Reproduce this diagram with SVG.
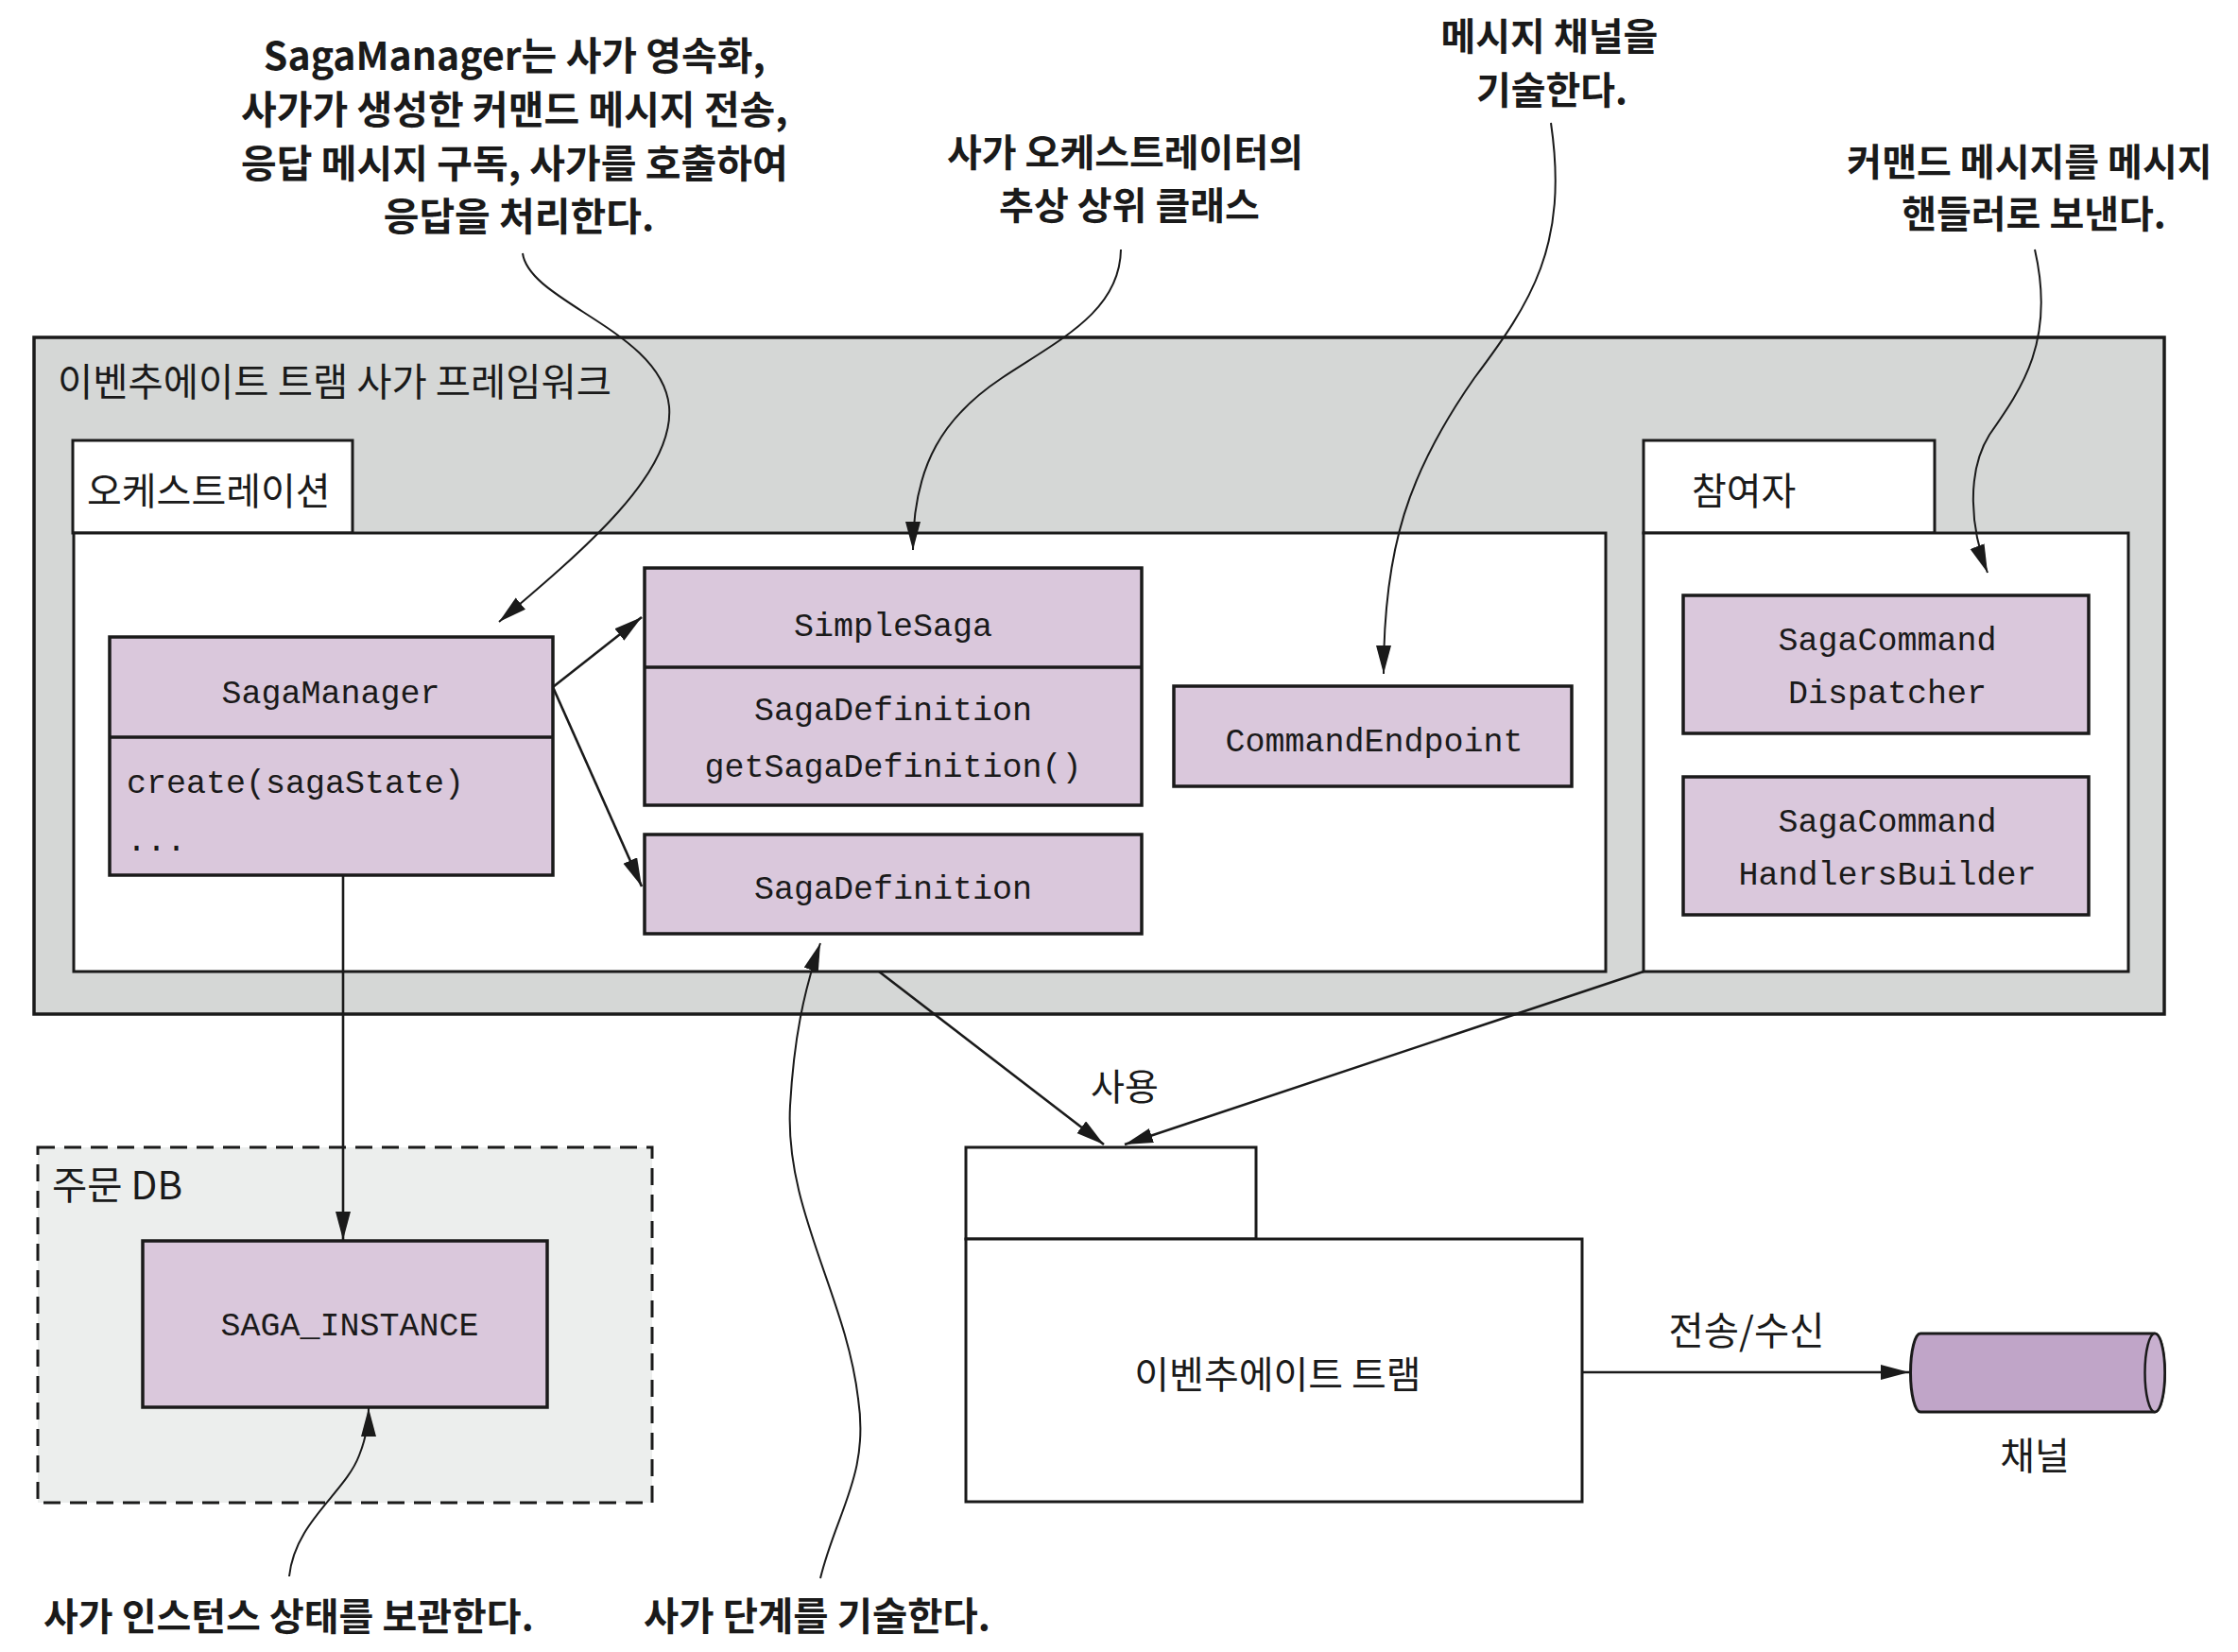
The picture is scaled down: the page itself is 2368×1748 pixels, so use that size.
<svg xmlns="http://www.w3.org/2000/svg" width="2368" height="1748" viewBox="0 0 2368 1748">
<style>
.ann{font-family:"Noto Sans CJK KR","Noto Sans",sans-serif;font-weight:700;fill:#1a1a1a}
.lbl{font-family:"Noto Sans CJK KR","Noto Sans",sans-serif;fill:#1a1a1a}
.mono{font-family:"Liberation Mono","DejaVu Sans Mono",monospace;font-size:35px;fill:#1a1a1a}
.node{fill:#dac8dc;stroke:#1a1a1a;stroke-width:3.5}
.pane{fill:#ffffff;stroke:#1a1a1a;stroke-width:3}
.edge{fill:none;stroke:#1a1a1a;stroke-width:2.6}
.note{fill:none;stroke:#1a1a1a;stroke-width:2}
</style>
<defs>
<marker id="ah" markerUnits="userSpaceOnUse" markerWidth="32" markerHeight="18" refX="30" refY="8" orient="auto">
<path d="M0,0 L30,8 L0,16 Z" fill="#1a1a1a"/>
</marker>
</defs>
<rect width="2368" height="1748" fill="#ffffff"/>

<g id="framework">
<rect x="36" y="357" width="2254" height="716" fill="#d5d7d6" stroke="#1a1a1a" stroke-width="3.5"/>
<text class="lbl" x="61" y="419" font-size="40.5">이벤추에이트 트램 사가 프레임워크</text>
</g>

<g id="orchestration">
<rect class="pane" x="77" y="466" width="296" height="98"/>
<rect class="pane" x="78" y="564" width="1621" height="464"/>
<text class="lbl" x="92" y="534" font-size="40">오케스트레이션</text>
</g>

<g id="participants">
<rect class="pane" x="1739" y="466" width="308" height="98"/>
<rect class="pane" x="1739" y="564" width="513" height="464"/>
<text class="lbl" x="1790" y="534" font-size="40">참여자</text>
</g>

<g id="sagaManager">
<rect class="node" x="116" y="674" width="469" height="252"/>
<line x1="116" y1="780" x2="585" y2="780" stroke="#1a1a1a" stroke-width="3.5"/>
<text class="mono" x="350" y="744" text-anchor="middle">SagaManager</text>
<text class="mono" x="134" y="839">create(sagaState)</text>
<text class="mono" x="134" y="900">...</text>
</g>

<g id="simpleSaga">
<rect class="node" x="682" y="601" width="526" height="251"/>
<line x1="682" y1="706" x2="1208" y2="706" stroke="#1a1a1a" stroke-width="3.5"/>
<text class="mono" x="945" y="673" text-anchor="middle">SimpleSaga</text>
<text class="mono" x="945" y="762" text-anchor="middle">SagaDefinition</text>
<text class="mono" x="945" y="822" text-anchor="middle">getSagaDefinition()</text>
</g>

<g id="sagaDefinition">
<rect class="node" x="682" y="883" width="526" height="105"/>
<text class="mono" x="945" y="951" text-anchor="middle">SagaDefinition</text>
</g>

<g id="commandEndpoint">
<rect class="node" x="1242" y="726" width="421" height="106"/>
<text class="mono" x="1454" y="795" text-anchor="middle">CommandEndpoint</text>
</g>

<g id="sagaCommandDispatcher">
<rect class="node" x="1781" y="630" width="429" height="146"/>
<text class="mono" x="1997" y="688" text-anchor="middle">SagaCommand</text>
<text class="mono" x="1997" y="744" text-anchor="middle">Dispatcher</text>
</g>

<g id="sagaCommandHandlersBuilder">
<rect class="node" x="1781" y="822" width="429" height="146"/>
<text class="mono" x="1997" y="880" text-anchor="middle">SagaCommand</text>
<text class="mono" x="1997" y="936" text-anchor="middle">HandlersBuilder</text>
</g>

<g id="orderDb">
<rect x="40" y="1214" width="650" height="376" fill="#eceeed" stroke="#1a1a1a" stroke-width="3" stroke-dasharray="18 10"/>
<text class="lbl" x="55" y="1269" font-size="40.5">주문 DB</text>
</g>

<g id="sagaInstance">
<rect class="node" x="151" y="1313" width="428" height="176"/>
<text class="mono" x="370" y="1413" text-anchor="middle">SAGA_INSTANCE</text>
</g>

<g id="eventuateTram">
<rect class="pane" x="1022" y="1214" width="307" height="97"/>
<rect class="pane" x="1022" y="1311" width="652" height="278"/>
<text class="lbl" x="1352" y="1469" font-size="40" text-anchor="middle">이벤추에이트 트램</text>
</g>

<g id="channel">
<path d="M2032,1411 L2280,1411 A10.5,41.5 0 0 1 2280,1494 L2032,1494 A10.5,41.5 0 0 1 2032,1411 Z" fill="#c0a5c8" stroke="#1a1a1a" stroke-width="3"/>
<ellipse cx="2280" cy="1452.5" rx="10.5" ry="41.5" fill="#c8b0cf" stroke="#1a1a1a" stroke-width="2.5"/>
<text class="lbl" x="2153" y="1555" font-size="40" text-anchor="middle">채널</text>
</g>

<g id="annotations">
<text class="ann" font-size="41" text-anchor="middle">
<tspan x="549" y="74">SagaManager는 사가 영속화,</tspan>
<tspan x="549" y="131">사가가 생성한 커맨드 메시지 전송,</tspan>
<tspan x="549" y="188">응답 메시지 구독, 사가를 호출하여</tspan>
<tspan x="549" y="244">응답을 처리한다.</tspan>
</text>
<text class="ann" font-size="40" text-anchor="middle">
<tspan x="1195" y="176">사가 오케스트레이터의</tspan>
<tspan x="1195" y="232">추상 상위 클래스</tspan>
</text>
<text class="ann" font-size="40" text-anchor="middle">
<tspan x="1644" y="53">메시지 채널을</tspan>
<tspan x="1642" y="110">기술한다.</tspan>
</text>
<text class="ann" font-size="40" text-anchor="middle">
<tspan x="2152" y="186">커맨드 메시지를 메시지</tspan>
<tspan x="2152" y="241">핸들러로 보낸다.</tspan>
</text>
<text class="ann" font-size="40" x="46" y="1725">사가 인스턴스 상태를 보관한다.</text>
<text class="ann" font-size="40.5" x="681" y="1725">사가 단계를 기술한다.</text>
<text class="lbl" font-size="39" x="1190" y="1164" text-anchor="middle">사용</text>
<text class="lbl" font-size="40.5" x="1848" y="1423" text-anchor="middle">전송/수신</text>
</g>

<g id="connectors">
<line class="edge" x1="585" y1="727" x2="679" y2="653" marker-end="url(#ah)"/>
<line class="edge" x1="585" y1="727" x2="679" y2="938" marker-end="url(#ah)"/>
<line class="edge" x1="363" y1="926" x2="363" y2="1312" marker-end="url(#ah)"/>
<line class="edge" x1="930" y1="1028" x2="1168" y2="1211" marker-end="url(#ah)"/>
<line class="edge" x1="1739" y1="1028" x2="1190" y2="1211" marker-end="url(#ah)"/>
<line class="edge" x1="1674" y1="1452" x2="2020" y2="1452" marker-end="url(#ah)"/>
<path class="note" d="M553,268 C560,320 700,350 708,430 C714,500 620,580 528,658" marker-end="url(#ah)"/>
<path class="note" d="M1186,264 C1185,330 1120,360 1060,400 C1000,440 966,490 966,582" marker-end="url(#ah)"/>
<path class="note" d="M1641,130 C1660,260 1620,320 1560,400 C1490,500 1464,580 1464,713" marker-end="url(#ah)"/>
<path class="note" d="M2153,264 C2175,360 2140,410 2105,460 C2080,500 2085,560 2103,606" marker-end="url(#ah)"/>
<path class="note" d="M306,1668 C312,1610 365,1580 380,1540 C388,1520 390,1505 390,1490" marker-end="url(#ah)"/>
<path class="note" d="M868,1670 C885,1600 920,1560 908,1480 C895,1370 830,1280 836,1170 C840,1100 850,1050 868,998" marker-end="url(#ah)"/>
</g>
</svg>
